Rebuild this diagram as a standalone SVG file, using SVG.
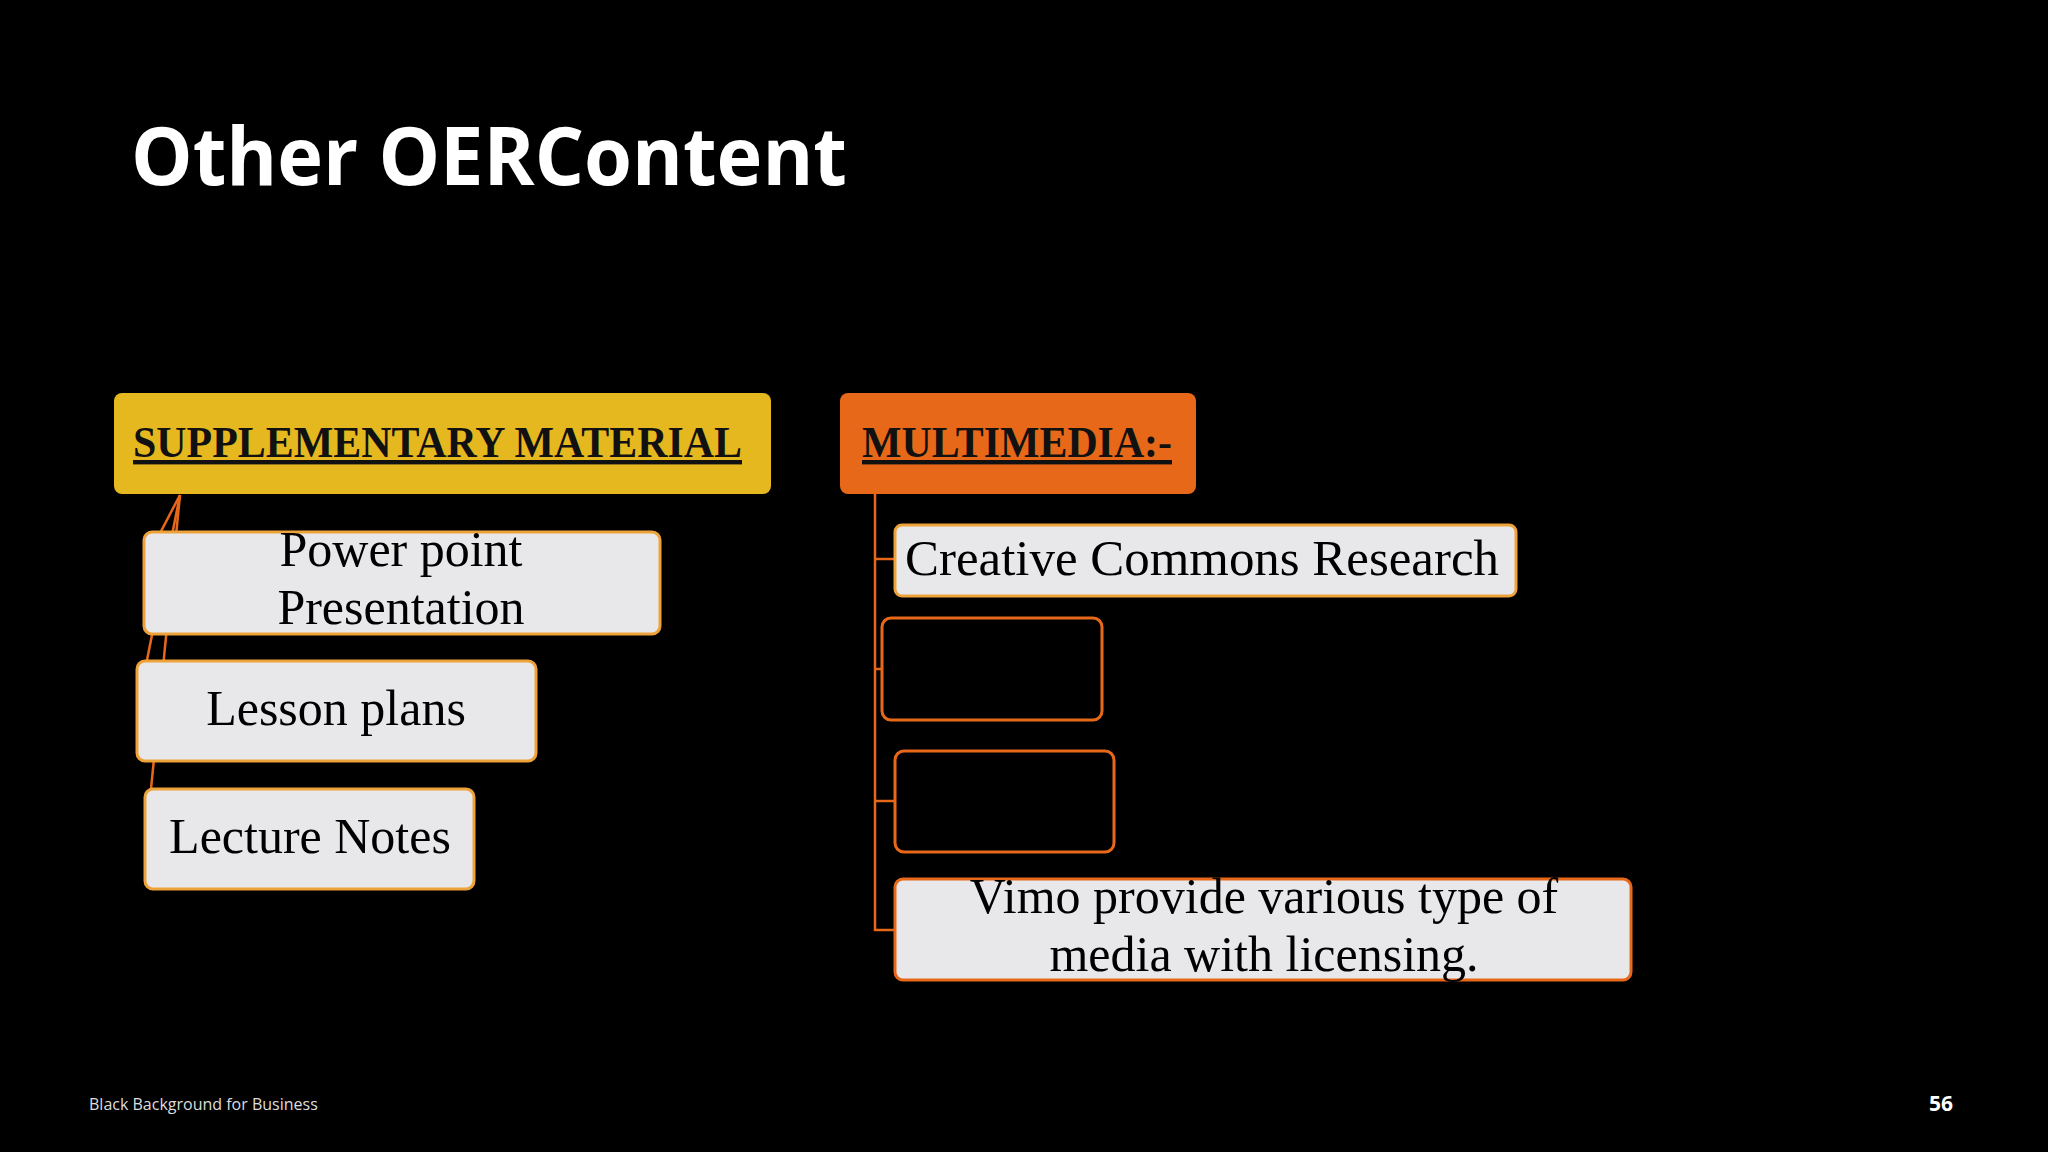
<svg xmlns="http://www.w3.org/2000/svg" width="2048" height="1152" viewBox="0 0 2048 1152">
<style>
.box{fill:#e8e8ea;stroke:#eea23a;stroke-width:3}
.rbox{fill:#e8e8ea;stroke:#e8681a;stroke-width:3}
.t{font-family:"Liberation Serif",serif;font-size:50px;fill:#000}
.h{font-family:"Liberation Serif",serif;font-size:44px;font-weight:bold;fill:#111;text-decoration:underline}
.c{stroke:#e8681a;stroke-width:2.5;fill:none}
</style>
<rect width="2048" height="1152" fill="#000"/>
<text x="131" y="185" font-family="Open Sans, sans-serif" font-weight="bold" font-size="80" fill="#fff" textLength="716" lengthAdjust="spacingAndGlyphs">Other OERContent</text>
<g id="connectors">
<line class="c" x1="180" y1="495" x2="146" y2="560"/>
<line class="c" x1="180" y1="495" x2="147" y2="660"/>
<line class="c" x1="180" y1="495" x2="151" y2="789"/>
<polyline class="c" points="875,494 875,930 895,930"/>
<line class="c" x1="875" y1="559" x2="895" y2="559"/>
<line class="c" x1="875" y1="669" x2="882" y2="669"/>
<line class="c" x1="875" y1="801" x2="895" y2="801"/>
</g>
<g id="supp"><rect x="114" y="393" width="657" height="101" rx="8" fill="#e6b820"/>
<text class="h" x="133" y="457" textLength="609" lengthAdjust="spacingAndGlyphs">SUPPLEMENTARY MATERIAL</text></g>
<g id="ppt"><rect class="box" x="144" y="532" width="516" height="102" rx="8"/>
<text class="t" x="401" y="566" text-anchor="middle">Power point</text>
<text class="t" x="401" y="624" text-anchor="middle">Presentation</text></g>
<g id="lesson"><rect class="box" x="137" y="661" width="399" height="100" rx="8"/>
<text class="t" x="336" y="725" text-anchor="middle">Lesson plans</text></g>
<g id="lecture"><rect class="box" x="145" y="789" width="329" height="100" rx="8"/>
<text class="t" x="310" y="853" text-anchor="middle">Lecture Notes</text></g>
<g id="multi"><rect x="840" y="393" width="356" height="101" rx="8" fill="#e8681a"/>
<text class="h" x="862" y="457" textLength="310" lengthAdjust="spacingAndGlyphs">MULTIMEDIA:-</text></g>
<g id="cc"><rect class="box" x="895" y="525" width="621" height="71" rx="7"/>
<text class="t" x="905" y="575" textLength="594" lengthAdjust="spacingAndGlyphs">Creative Commons Research</text></g>
<g id="empty1"><rect x="882" y="618" width="220" height="102" rx="9" fill="#000" stroke="#e8681a" stroke-width="3"/></g>
<g id="empty2"><rect x="895" y="751" width="219" height="101" rx="9" fill="#000" stroke="#e8681a" stroke-width="3"/></g>
<g id="vimo"><rect class="rbox" x="895" y="879" width="736" height="101" rx="8"/>
<text class="t" x="1264" y="913" text-anchor="middle">Vimo provide various type of</text>
<text class="t" x="1264" y="971" text-anchor="middle">media with licensing.</text></g>
<text x="89" y="1110" font-family="Open Sans, sans-serif" font-size="16" fill="#ddd">Black Background for Business</text>
<text x="1953" y="1111" text-anchor="end" font-family="Open Sans, sans-serif" font-weight="bold" font-size="21" fill="#fff">56</text>
</svg>
